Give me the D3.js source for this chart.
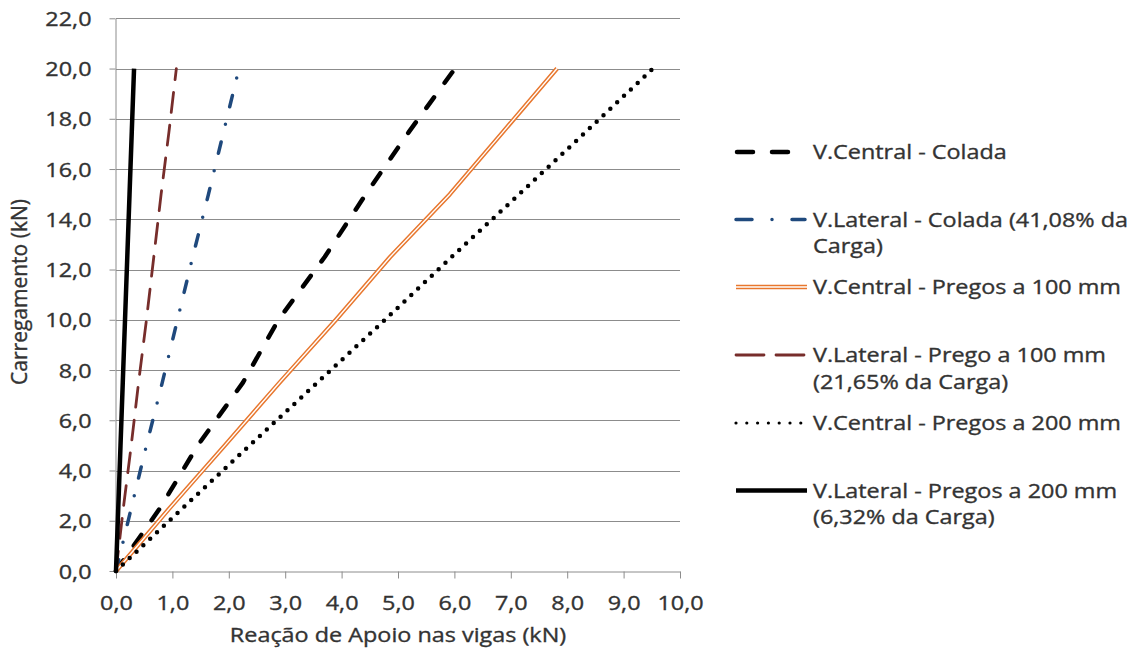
<!DOCTYPE html>
<html>
<head>
<meta charset="utf-8">
<script src="https://cdn.jsdelivr.net/npm/d3@7"></script>
<style>
  html, body { margin: 0; padding: 0; background: #fff; }
  svg { display: block; }
  text { font-family: "Open Sans", sans-serif; fill: #333333; stroke: #333333; stroke-width: 0.35px; }
</style>
</head>
<body>
<svg id="chart" width="1138" height="650"></svg>
<script>
// Load steps (kN) and support reactions (kN) for each beam
const cargas = [0, 2.5, 5, 7.5, 10, 12.5, 15, 17.5, 20];
const centralColada    = [0, 0.78, 1.45, 2.25, 2.88, 3.70, 4.43, 5.20, 6.01];
const lateralColada    = [0, 0.27, 0.54, 0.82, 1.09, 1.36, 1.64, 1.91, 2.18];
const centralPregos100 = [0, 0.95, 1.93, 2.90, 3.90, 4.86, 5.92, 6.87, 7.82];
const lateralPregos100 = [0, 0.13, 0.27, 0.40, 0.54, 0.67, 0.80, 0.94, 1.07];
const centralPregos200 = [0, 1.18, 2.37, 3.57, 4.77, 5.95, 7.15, 8.34, 9.52];
const lateralPregos200 = [0, 0.04, 0.08, 0.12, 0.16, 0.20, 0.24, 0.28, 0.32];

const seriesNames = [
  ["V.Central - Colada"],
  ["V.Lateral - Colada (41,08% da", "Carga)"],
  ["V.Central - Pregos a 100 mm"],
  ["V.Lateral - Prego a 100 mm", "(21,65% da Carga)"],
  ["V.Central - Pregos a 200 mm"],
  ["V.Lateral - Pregos a 200 mm", "(6,32% da Carga)"]
];
const seriesValues = [centralColada, lateralColada, centralPregos100,
                      lateralPregos100, centralPregos200, lateralPregos200];

const xTicks = [0, 1, 2, 3, 4, 5, 6, 7, 8, 9, 10];
const yTicks = [0, 2, 4, 6, 8, 10, 12, 14, 16, 18, 20, 22];
const xTitle = "Reação de Apoio nas vigas (kN)";
const yTitle = "Carregamento (kN)";

// Line styles per series
const styles = [
  { color: "#000000", width: 4.5, dash: "13,18", cap: "round" },
  { color: "#1F497D", width: 3.5, dash: "11.5,18.15,0,18.15", cap: "round" },
  { color: "#E8772E", width: 4.4, dash: null, cap: "butt", double: true },
  { color: "#772D2B", width: 2.8, dash: "20,13", cap: "round" },
  { color: "#000000", width: 4.5, dash: "0,9.4", cap: "round" },
  { color: "#000000", width: 4.5, dash: null, cap: "butt" }
];
const legendStyles = [
  { dash: "16,19" },
  { dash: "16,20,0,20,13" },
  { dash: null },
  { dash: "28,12" },
  { dash: "0,10.8" },
  { dash: null }
];

const TX = 1.17; // horizontal stretch of the labels
const loc = d3.formatLocale({ decimal: ",", thousands: ".", grouping: [3], currency: ["R$", ""] });
const fmt = loc.format(".1f");

const svg = d3.select("#chart");
const x = d3.scaleLinear().domain([0, 10]).range([116, 680]);
const y = d3.scaleLinear().domain([0, 22]).range([571, 18.3]);

// Horizontal gridlines
svg.append("g").selectAll("line").data(yTicks.filter(d => d > 0)).join("line")
  .attr("x1", x(0)).attr("x2", x(10))
  .attr("y1", d => Math.round(y(d)) + 0.5).attr("y2", d => Math.round(y(d)) + 0.5)
  .attr("stroke", "#8c8c8c").attr("stroke-width", 1);

// Axes
const xAxis = svg.append("g").attr("transform", `translate(0,${Math.round(y(0)) + 0.5})`)
  .call(d3.axisBottom(x).tickValues(xTicks).tickFormat(fmt).tickSize(7).tickSizeOuter(0));
const yAxis = svg.append("g").attr("transform", `translate(${Math.round(x(0)) - 0.5},0)`)
  .call(d3.axisLeft(y).tickValues(yTicks).tickFormat(fmt).tickSize(6).tickSizeOuter(0));
[xAxis, yAxis].forEach(a => {
  a.select(".domain").attr("stroke", "#8c8c8c");
  a.selectAll(".tick line").attr("stroke", "#8c8c8c");
  a.selectAll(".tick text").style("font-family", '"Open Sans", sans-serif')
    .style("font-size", "20px").attr("fill", "#333333");
});
xAxis.selectAll(".tick text").attr("y", 39).attr("dy", null)
  .attr("transform", `scale(${TX},1)`);
yAxis.selectAll(".tick text").attr("x", -20.5).attr("y", 7).attr("dy", null)
  .attr("transform", `scale(${TX},1)`);

// Axis titles
svg.append("text").attr("transform", `translate(398,642) scale(${TX},1)`)
  .attr("text-anchor", "middle").style("font-size", "20px").text(xTitle);
svg.append("text").attr("transform", `translate(27,292) rotate(-90)`)
  .attr("text-anchor", "middle").style("font-size", "21px").text(yTitle);

// Series lines
const line = d3.line().x(d => x(d[0])).y(d => y(d[1]));
const plot = svg.append("g");
seriesValues.forEach((vals, i) => {
  const pts = vals.map((v, k) => [v, cargas[k]]);
  const s = styles[i];
  const p = plot.append("path").attr("d", line(pts)).attr("fill", "none")
    .attr("stroke", s.color).attr("stroke-width", s.width)
    .attr("stroke-linecap", s.cap).attr("stroke-linejoin", "round");
  if (s.dash) p.attr("stroke-dasharray", s.dash);
  if (s.double) {
    plot.append("path").attr("d", line(pts)).attr("fill", "none")
      .attr("stroke", "#ffffff").attr("stroke-width", 1.4).attr("stroke-linejoin", "round");
  }
});

// Legend
const legendY = [152, 219.5, 287, 355, 423, 490.5];
const legend = svg.append("g");
seriesNames.forEach((lines, i) => {
  const s = styles[i], ls = legendStyles[i];
  const cy = legendY[i];
  let x1 = 736, x2 = 807;
  if (i === 0) { x1 = 737; x2 = 789; }
  if (i === 4) { x1 = 736; x2 = 801; }
  const l = legend.append("line").attr("x1", x1).attr("x2", x2)
    .attr("y1", cy).attr("y2", cy).attr("stroke", s.color)
    .attr("stroke-width", i === 4 ? 3.2 : s.width).attr("stroke-linecap", s.cap);
  if (ls.dash) l.attr("stroke-dasharray", ls.dash);
  if (s.double) {
    legend.append("line").attr("x1", x1).attr("x2", x2).attr("y1", cy).attr("y2", cy)
      .attr("stroke", "#fff").attr("stroke-width", 1.4);
  }
  lines.forEach((t, j) => {
    legend.append("text")
      .attr("transform", `translate(813,${cy + 7 + j * 26.7}) scale(${TX},1)`)
      .style("font-size", "20px").text(t);
  });
});
</script>
</body>
</html>
